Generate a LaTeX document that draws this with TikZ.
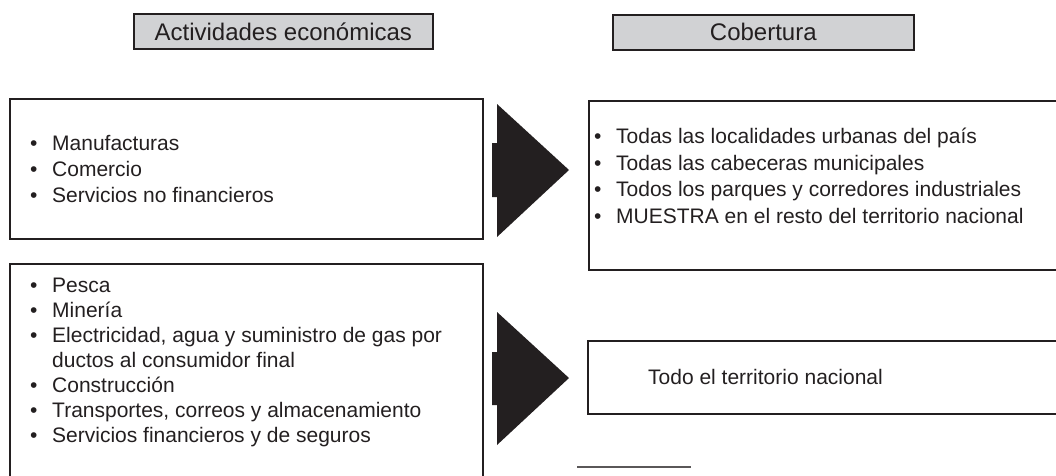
\documentclass[tikz,border=0pt]{standalone}
\usepackage{fontspec}
\setmainfont{Liberation Sans}
\definecolor{ink}{HTML}{231F20}
\definecolor{headgray}{HTML}{D1D2D4}
\newcommand{\vineta}{\makebox[22pt][l]{\textbullet}}
\tikzset{
  caja/.style = {draw = ink, line width = 1.6pt, inner sep = 0pt},
  titulo/.style = {caja, fill = headgray, text = ink, minimum height = 35pt, font = \fontsize{24}{28}\selectfont},
  lista/.style = {align = left, inner sep = 0pt, text = ink, font = \fontsize{21}{26}\selectfont}
}
\begin{document}
\begin{tikzpicture}[x = 1pt, y = -1pt]
    \useasboundingbox (0,0) rectangle (1056,475);
    \node [titulo, anchor = north west, minimum width = 299pt] (tact) at (133,13) {Actividades económicas};
    \node [titulo, anchor = north west, minimum width = 301pt] (tcob) at (612,14) {Cobertura};
    \node [caja, anchor = north west, minimum width = 473pt, minimum height = 140pt] (bman) at (9,98) {};
    \node [caja, anchor = north west, minimum width = 473pt, minimum height = 225pt] (bpes) at (9,263) {};
    \node [caja, anchor = north west, minimum width = 480pt, minimum height = 169pt] (bloc) at (588,100) {};
    \node [caja, anchor = north west, minimum width = 480pt, minimum height = 73pt] (bterr) at (587,340) {};
    \node [lista, anchor = west] (lman) at (30,169) {\vineta Manufacturas\\ \vineta Comercio\\ \vineta Servicios no financieros};
    \node [lista, anchor = west, font = \fontsize{21}{25}\selectfont] (lpes) at (30,362) {\vineta Pesca\\ \vineta Minería\\
      \vineta Electricidad, agua y suministro de gas por\\ \makebox[22pt]{}ductos al consumidor final\\
      \vineta Construcción\\ \vineta Transportes, correos y almacenamiento\\ \vineta Servicios financieros y de seguros};
    \node [lista, anchor = west, font = \fontsize{21}{26.5}\selectfont] (lloc) at (594,176) {\vineta Todas las localidades urbanas del país\\
      \vineta Todas las cabeceras municipales\\ \vineta Todos los parques y corredores industriales\\
      \vineta MUESTRA en el resto del territorio nacional};
    \node [lista, anchor = west] (lterr) at (648,377) {Todo el territorio nacional};
    \fill [ink] (492,143) -- (497,143) -- (497,104) -- (569,170) -- (497,237) -- (497,197) -- (492,197) -- cycle;
    \fill [ink] (492,352) -- (497,352) -- (497,312) -- (569,378) -- (497,445) -- (497,405) -- (492,405) -- cycle;
    \coordinate (notaA) at (577,467);
    \coordinate (notaB) at (691,467);
    \draw [line width = 1.5pt, ink!75] (notaA) -- (notaB);
\end{tikzpicture}
\end{document}
